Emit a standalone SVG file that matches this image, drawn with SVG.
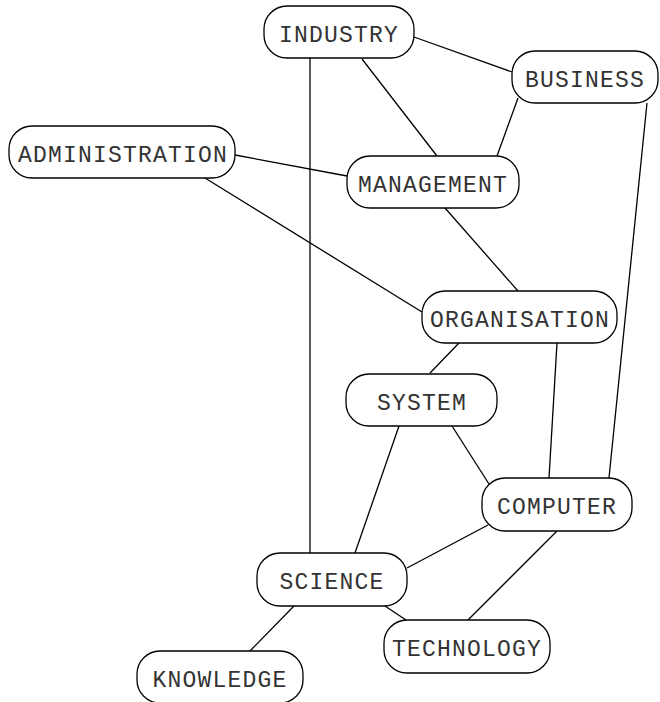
<svg xmlns="http://www.w3.org/2000/svg" width="660" height="702" viewBox="0 0 660 702">
  <style>
    .edge { stroke: #000; stroke-width: 1.3; fill: none; }
    .box { fill: #fff; stroke: #000; stroke-width: 1.3; }
    .lbl { font-family: "Liberation Mono", "Courier New", monospace; font-size: 23px; letter-spacing: 1.2px; fill: #333; text-anchor: middle; }
  </style>
  <rect width="660" height="702" fill="#fff"/>
  <g id="connectors">
    <line class="edge" x1="414" y1="37" x2="512" y2="72"/>
    <line class="edge" x1="362" y1="59" x2="437" y2="156"/>
    <line class="edge" x1="518" y1="98" x2="497" y2="156"/>
    <line class="edge" x1="647" y1="103" x2="609" y2="478"/>
    <line class="edge" x1="310" y1="58" x2="310" y2="553"/>
    <line class="edge" x1="235" y1="155" x2="347" y2="176"/>
    <line class="edge" x1="205" y1="178" x2="422" y2="312"/>
    <line class="edge" x1="445" y1="208" x2="518" y2="291"/>
    <line class="edge" x1="459" y1="343" x2="430" y2="373"/>
    <line class="edge" x1="557" y1="343" x2="549" y2="478"/>
    <line class="edge" x1="452" y1="426" x2="489" y2="484"/>
    <line class="edge" x1="399" y1="426" x2="355" y2="553"/>
    <line class="edge" x1="488" y1="525" x2="407" y2="568"/>
    <line class="edge" x1="557" y1="531" x2="468" y2="620"/>
    <line class="edge" x1="385" y1="606" x2="406" y2="620"/>
    <line class="edge" x1="294" y1="606" x2="250" y2="651"/>
  </g>
  <g id="industry">
    <rect class="box" x="264" y="6" width="150" height="52" rx="23"/>
    <text class="lbl" x="339" y="42">INDUSTRY</text>
  </g>
  <g id="business">
    <rect class="box" x="512" y="51" width="146" height="52" rx="23"/>
    <text class="lbl" x="585" y="87">BUSINESS</text>
  </g>
  <g id="administration">
    <rect class="box" x="9" y="126" width="226" height="52" rx="23"/>
    <text class="lbl" x="123" y="162">ADMINISTRATION</text>
  </g>
  <g id="management">
    <rect class="box" x="347" y="156" width="172" height="52" rx="23"/>
    <text class="lbl" x="433" y="192">MANAGEMENT</text>
  </g>
  <g id="organisation">
    <rect class="box" x="422" y="291" width="195" height="52" rx="23"/>
    <text class="lbl" x="520" y="327">ORGANISATION</text>
  </g>
  <g id="system">
    <rect class="box" x="346" y="374" width="151" height="52" rx="23"/>
    <text class="lbl" x="422" y="410">SYSTEM</text>
  </g>
  <g id="computer">
    <rect class="box" x="482" y="478" width="150" height="53" rx="23"/>
    <text class="lbl" x="557" y="514">COMPUTER</text>
  </g>
  <g id="science">
    <rect class="box" x="257" y="553" width="150" height="53" rx="23"/>
    <text class="lbl" x="332" y="589">SCIENCE</text>
  </g>
  <g id="technology">
    <rect class="box" x="384" y="620" width="166" height="53" rx="23"/>
    <text class="lbl" x="467" y="656">TECHNOLOGY</text>
  </g>
  <g id="knowledge">
    <rect class="box" x="137" y="651" width="166" height="52" rx="23"/>
    <text class="lbl" x="220" y="687">KNOWLEDGE</text>
  </g>
</svg>
